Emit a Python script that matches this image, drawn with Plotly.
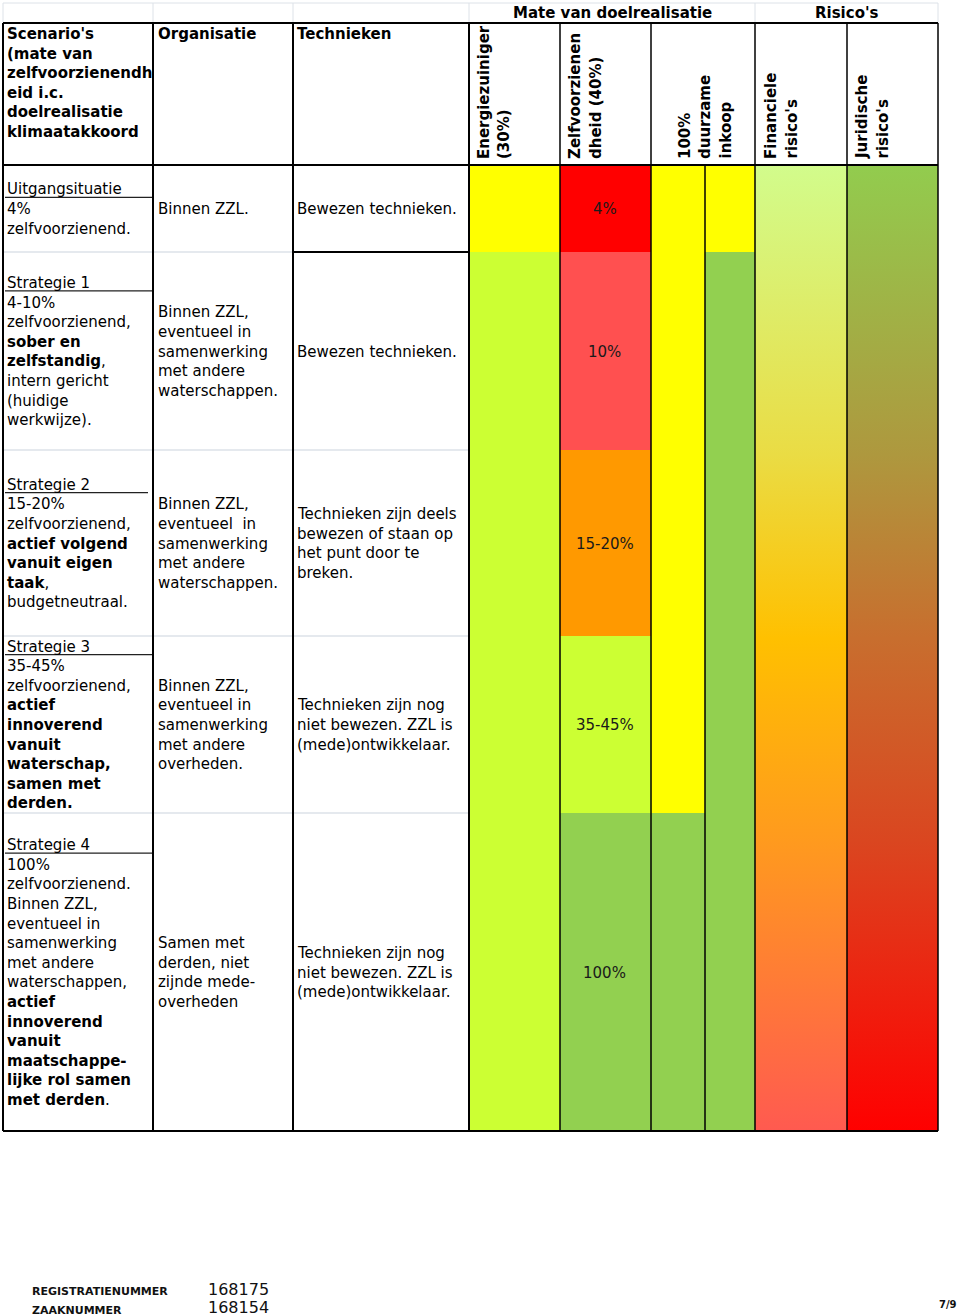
import plotly.graph_objects as go

# ---------------- data ----------------
header_col1 = ["Scenario's", "(mate van", "zelfvoorzienendh", "eid i.c.", "doelrealisatie", "klimaatakkoord"]
header_org = "Organisatie"
header_tech = "Technieken"
super_headers = ["Mate van doelrealisatie", "Risico's"]
rotated_headers = [
    ["Energiezuiniger", "(30%)"],
    ["Zelfvoorzienen", "dheid (40%)"],
    ["100%", "duurzame", "inkoop"],
    ["Financiele", "risico's"],
    ["Juridische", "risico's"],
]

scenario_titles = ["Uitgangsituatie", "Strategie 1", "Strategie 2", "Strategie 3", "Strategie 4"]
scenario_lines = [
    ["4%", "zelfvoorzienend."],
    ["4-10%", "zelfvoorzienend,", "<b>sober en</b>", "<b>zelfstandig</b>,", "intern gericht",
     "(huidige", "werkwijze)."],
    ["15-20%", "zelfvoorzienend,", "<b>actief volgend</b>", "<b>vanuit eigen</b>", "<b>taak</b>,",
     "budgetneutraal."],
    ["35-45%", "zelfvoorzienend,", "<b>actief</b>", "<b>innoverend</b>", "<b>vanuit</b>",
     "<b>waterschap,</b>", "<b>samen met</b>", "<b>derden.</b>"],
    ["100%", "zelfvoorzienend.", "Binnen ZZL,", "eventueel in", "samenwerking", "met andere",
     "waterschappen,", "<b>actief</b>", "<b>innoverend</b>", "<b>vanuit</b>", "<b>maatschappe-</b>",
     "<b>lijke rol samen</b>", "<b>met derden</b>."],
]
organisatie_lines = [
    ["Binnen ZZL."],
    ["Binnen ZZL,", "eventueel in", "samenwerking", "met andere", "waterschappen."],
    ["Binnen ZZL,", "eventueel  in", "samenwerking", "met andere", "waterschappen."],
    ["Binnen ZZL,", "eventueel in", "samenwerking", "met andere", "overheden."],
    ["Samen met", "derden, niet", "zijnde mede-", "overheden"],
]
technieken_lines = [
    ["Bewezen technieken."],
    ["Bewezen technieken."],
    ["Technieken zijn deels", "bewezen of staan op", "het punt door te", "breken."],
    ["Technieken zijn nog", "niet bewezen. ZZL is", "(mede)ontwikkelaar."],
    ["Technieken zijn nog", "niet bewezen. ZZL is", "(mede)ontwikkelaar."],
]
zelfvoorzienend_labels = ["4%", "10%", "15-20%", "35-45%", "100%"]

YEL, LIME, GRN, RED, SAL, ORA = "#ffff00", "#ccff33", "#92d050", "#ff0000", "#ff5050", "#ff9900"
energie_colors = [YEL, LIME, LIME, LIME, LIME]
zelf_colors = [RED, SAL, ORA, LIME, GRN]
inkoop_a_colors = [YEL, YEL, YEL, YEL, GRN]
inkoop_b_colors = [YEL, GRN, GRN, GRN, GRN]

fin_gradient = [[0.0, "#d2fc8c"], [0.3, "#eadc44"], [0.49, "#ffc000"], [0.7, "#ff9a1e"], [1.0, "#ff5a50"]]
jur_gradient = [[0.0, "#92cc4e"], [0.3, "#ae983e"], [0.49, "#c86e2e"], [0.7, "#da4620"], [1.0, "#ff0000"]]

footer_labels = ["REGISTRATIENUMMER", "ZAAKNUMMER"]
footer_values = ["168175", "168154"]
page_label = "7/9"

# ---------------- layout geometry ----------------
COL_X = [3, 153, 293, 469, 560, 651, 705, 755, 847, 938]
ROW_Y = [165, 252, 450, 636, 813, 1131]
TOP = 3
HEAD_TOP = 23
LH = 19.6
FONT = "DejaVu Sans"
FS = 15

fig = go.Figure()
shapes = []
ann = []


def rect(x0, x1, y0, y1, color):
    shapes.append(dict(type="rect", x0=x0, x1=x1, y0=y0, y1=y1, fillcolor=color,
                       line=dict(width=0), layer="below"))


def line(x0, y0, x1, y1, color="black", w=2):
    shapes.append(dict(type="line", x0=x0, y0=y0, x1=x1, y1=y1, line=dict(color=color, width=w),
                       layer="above"))


def text(x, y, s, size=FS, bold=False, xanchor="left", color="#000000", angle=0, yanchor="middle",
         family=FONT):
    if bold:
        s = "<b>" + s + "</b>"
    ann.append(dict(x=x, y=y, text=s, xref="x", yref="y", showarrow=False, xanchor=xanchor,
                    yanchor=yanchor, textangle=angle, font=dict(family=family, size=size, color=color),
                    align="left"))


# coloured cells
for i in range(5):
    y0, y1 = ROW_Y[i], ROW_Y[i + 1]
    rect(COL_X[3], COL_X[4], y0, y1, energie_colors[i])
    rect(COL_X[4], COL_X[5], y0, y1, zelf_colors[i])
    rect(COL_X[5], COL_X[6], y0, y1, inkoop_a_colors[i])
    rect(COL_X[6], COL_X[7], y0, y1, inkoop_b_colors[i])

# gradient columns
for (xa, xb, grad) in [(COL_X[7], COL_X[8], fin_gradient), (COL_X[8], COL_X[9], jur_gradient)]:
    fig.add_trace(go.Scatter(
        x=[xa, xb, xb, xa, xa], y=[ROW_Y[0], ROW_Y[0], ROW_Y[-1], ROW_Y[-1], ROW_Y[0]],
        mode="lines", line=dict(width=0), fill="toself",
        fillgradient=dict(type="vertical", colorscale=grad, start=ROW_Y[0], stop=ROW_Y[-1]),
        hoverinfo="skip", showlegend=False))

# light grid lines
LG = "#dde2e8"
line(COL_X[0], TOP, COL_X[-1], TOP, LG, 1)
for x in [COL_X[0], COL_X[1], COL_X[2], COL_X[3], COL_X[7], COL_X[9]]:
    line(x, TOP, x, HEAD_TOP, LG, 1)
for y in ROW_Y[1:-1]:
    line(COL_X[0], y, COL_X[3], y, LG, 1.5)

# black borders
line(COL_X[0], HEAD_TOP, COL_X[-1], HEAD_TOP)
line(COL_X[0], ROW_Y[0], COL_X[-1], ROW_Y[0])
line(COL_X[0], ROW_Y[-1], COL_X[-1], ROW_Y[-1])
line(COL_X[2], ROW_Y[1], COL_X[3], ROW_Y[1])
for k, x in enumerate(COL_X):
    if k == 6:
        line(x, ROW_Y[0], x, ROW_Y[-1], "black", 1.5)
    elif k >= 4:
        line(x, HEAD_TOP, x, ROW_Y[-1], "black", 1.5)
    else:
        line(x, HEAD_TOP, x, ROW_Y[-1])

# header texts
TX1, TX2, TX3 = 5, 156, 295
for i, s in enumerate(header_col1):
    text(TX1, 34 + i * LH, s, bold=True)
text(TX2, 34, header_org, bold=True)
text(TX3, 34, header_tech, bold=True)
text((COL_X[3] + COL_X[7]) / 2, 13, super_headers[0], bold=True, xanchor="center")
text((COL_X[7] + COL_X[9]) / 2, 13, super_headers[1], bold=True, xanchor="center")

rot_x = [[484, 504], [575, 596], [685, 705, 725], [771, 791], [862, 882]]
for lines_, xs in zip(rotated_headers, rot_x):
    for s, x in zip(lines_, xs):
        text(x, 161, s, bold=True, xanchor="center", yanchor="bottom", angle=-90)

# body texts
for i in range(5):
    yc = (ROW_Y[i] + ROW_Y[i + 1]) / 2 + 0.5
    sl = [scenario_titles[i]] + scenario_lines[i]
    n = len(sl)
    for j, s in enumerate(sl):
        y = yc + (j - (n - 1) / 2) * LH
        text(TX1, y, s)
        if j == 0:
            line(5, y + 8, 152 if i != 2 else 148, y + 8, "#222222", 1.3)
    for col_x, lines_ in [(TX2, organisatie_lines[i]), (TX3, technieken_lines[i])]:
        n = len(lines_)
        for j, s in enumerate(lines_):
            text(col_x, yc + (j - (n - 1) / 2) * LH, s)
    text((COL_X[4] + COL_X[5]) / 2 - 1, yc, zelfvoorzienend_labels[i], xanchor="center", color="#1a1a1a")

# footer
text(30, 1291, footer_labels[0], size=11, bold=True, color="#111111")
text(30, 1310, footer_labels[1], size=11, bold=True, color="#111111")
text(206, 1289, footer_values[0], size=16, color="#111111")
text(206, 1307, footer_values[1], size=16, color="#111111")
text(948, 1304, page_label, size=10, bold=True, xanchor="center", color="#111111")

fig.update_layout(
    width=960, height=1316, margin=dict(l=0, r=0, t=0, b=0),
    paper_bgcolor="white", plot_bgcolor="white",
    xaxis=dict(range=[0, 960], visible=False, fixedrange=True),
    yaxis=dict(range=[1316, 0], visible=False, fixedrange=True),
    shapes=shapes, annotations=ann, showlegend=False,
)
fig.write_html("out.html", config={"displayModeBar": False},
               post_script="document.body.style.margin='0';document.body.style.overflow='hidden';")
